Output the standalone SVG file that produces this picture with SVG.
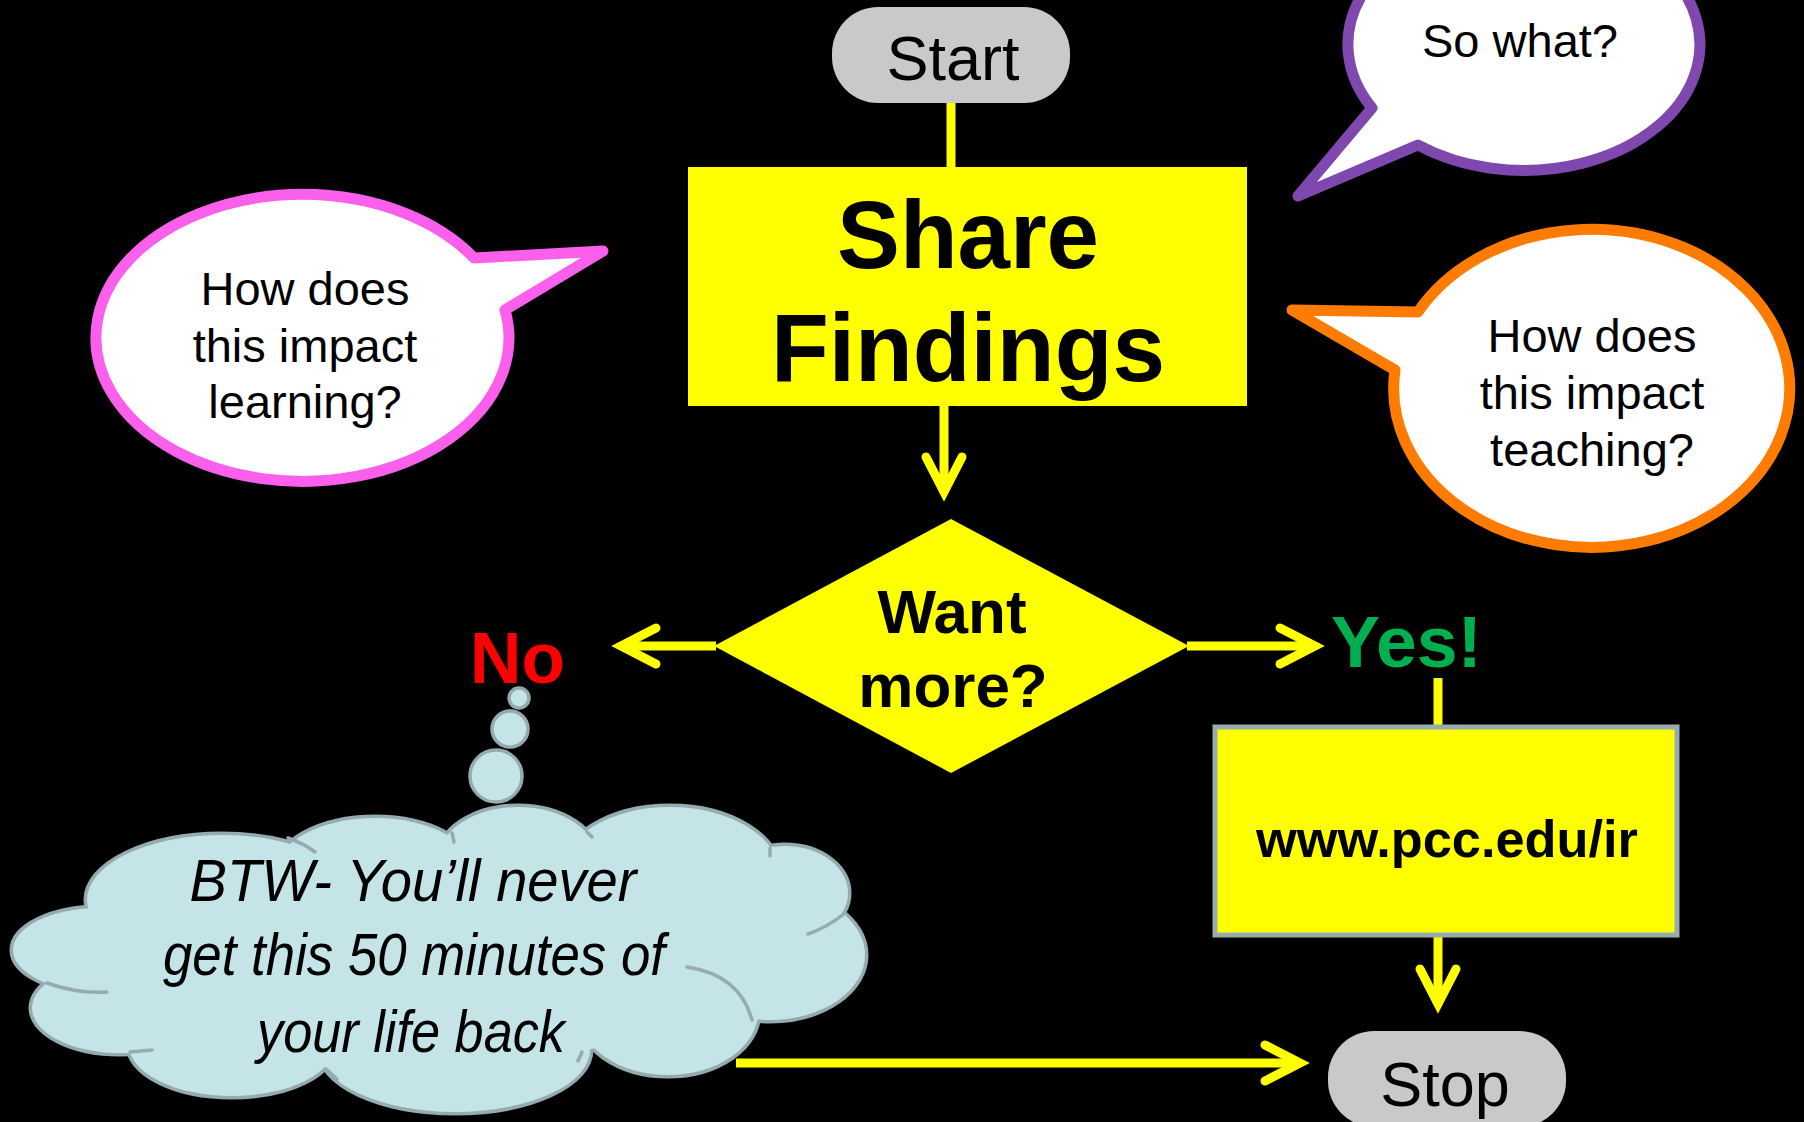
<svg xmlns="http://www.w3.org/2000/svg" width="1804" height="1122" viewBox="0 0 1804 1122">
<defs>
<style>
.t{font-family:"Liberation Sans",Arial,Helvetica,sans-serif;fill:#000}
.b{font-weight:bold}
.m{text-anchor:middle}
.conn{stroke:#FFFF00;stroke-width:9;fill:none}
.pill{fill:#C9C9C9}
.yel{fill:#FFFF00}
.bal{fill:#FFFFFF;stroke-width:11;stroke-linejoin:round}
.cs{fill:none;stroke:#95ABB0;stroke-width:7}
.cf{fill:#C5E4E8}
.stub{fill:none;stroke:#95ABB0;stroke-width:3.5;stroke-linecap:round}
.bub{fill:#C5E4E8;stroke:#95ABB0;stroke-width:3.5}
.ct{font-style:italic;font-size:60px}
.q{font-size:47px}
</style>
<marker id="ah" viewBox="-50 -30 65 60" markerWidth="65" markerHeight="60" refX="0" refY="0" orient="auto" markerUnits="userSpaceOnUse">
<path d="M-35,-18 L0,0 L-35,18" fill="none" stroke="#FFFF00" stroke-width="9" stroke-linecap="round" stroke-linejoin="miter"/>
</marker>
</defs>
<rect x="0" y="0" width="1804" height="1122" fill="#000"/>

<g id="connectors">
<line class="conn" x1="951" y1="102" x2="951" y2="168"/>
<line class="conn" x1="944" y1="406" x2="944" y2="492" marker-end="url(#ah)"/>
<line class="conn" x1="716" y1="646" x2="621" y2="646" marker-end="url(#ah)"/>
<line class="conn" x1="1187" y1="646" x2="1315" y2="646" marker-end="url(#ah)"/>
<line class="conn" x1="1438" y1="678" x2="1438" y2="726"/>
<line class="conn" x1="1438" y1="936" x2="1438" y2="1004" marker-end="url(#ah)"/>
<line class="conn" x1="736" y1="1063" x2="1300" y2="1063" marker-end="url(#ah)"/>
</g>

<g id="start">
<rect class="pill" x="832" y="7" width="238" height="96" rx="46" ry="46"/>
<text class="t m" x="953" y="80" font-size="63">Start</text>
</g>

<g id="share">
<rect class="yel" x="688" y="167" width="559" height="239"/>
<text class="t b m" x="968" y="268" font-size="96" textLength="262" lengthAdjust="spacingAndGlyphs">Share</text>
<text class="t b m" x="968" y="381" font-size="96" textLength="394" lengthAdjust="spacingAndGlyphs">Findings</text>
</g>

<g id="decision">
<polygon class="yel" points="951,519 1189,646 951,773 714,646"/>
<text class="t b m" x="952" y="633" font-size="62">Want</text>
<text class="t b m" x="953" y="707" font-size="62">more?</text>
</g>

<g id="no">
<text class="t b" x="470" y="683" font-size="72" style="fill:#FF0000" textLength="95" lengthAdjust="spacingAndGlyphs">No</text>
</g>

<g id="yes">
<text class="t b" x="1331" y="667" font-size="72" style="fill:#00B050" textLength="151" lengthAdjust="spacingAndGlyphs">Yes!</text>
</g>

<g id="url">
<rect class="yel" x="1215" y="727" width="462" height="208" stroke="#98ACB0" stroke-width="5"/>
<text class="t b m" x="1447" y="857" font-size="52" textLength="382" lengthAdjust="spacingAndGlyphs">www.pcc.edu/ir</text>
</g>

<g id="stop">
<rect class="pill" x="1328" y="1031" width="238" height="96" rx="46" ry="46"/>
<text class="t m" x="1445" y="1106" font-size="63">Stop</text>
</g>

<g id="balloon-learning">
<path class="bal" stroke="#FA60EC" d="M474,258 L603,251 L505,310 A206.5 143.5 0 1 1 474,258 Z"/>
<text class="t m q" x="305" y="305">How does</text>
<text class="t m q" x="305" y="362">this impact</text>
<text class="t m q" x="305" y="418">learning?</text>
</g>

<g id="balloon-sowhat">
<path class="bal" stroke="#7F48AF" d="M1372,108 L1298,196 L1418,145 A176 126 0 1 0 1372,108 Z"/>
<text class="t m q" x="1520" y="57">So what?</text>
</g>

<g id="balloon-teaching">
<path class="bal" stroke="#FF7C00" d="M1418,312 L1292,310 L1395,370 A198 159 0 1 0 1418,312 Z"/>
<text class="t m q" x="1592" y="352">How does</text>
<text class="t m q" x="1592" y="409">this impact</text>
<text class="t m q" x="1592" y="466">teaching?</text>
</g>

<g id="thought-cloud">
<circle class="bub" cx="519" cy="698" r="10"/>
<circle class="bub" cx="510" cy="729" r="18"/>
<circle class="bub" cx="496" cy="776" r="26"/>
<g>
<ellipse class="cs" cx="222" cy="900" rx="135" ry="65"/>
<ellipse class="cs" cx="375" cy="873" rx="100" ry="55"/>
<ellipse class="cs" cx="518" cy="860" rx="80" ry="53"/>
<ellipse class="cs" cx="670" cy="875" rx="110" ry="68"/>
<ellipse class="cs" cx="785" cy="893" rx="63" ry="47"/>
<ellipse class="cs" cx="770" cy="955" rx="95" ry="65"/>
<ellipse class="cs" cx="668" cy="1012" rx="90" ry="63"/>
<ellipse class="cs" cx="455" cy="1050" rx="135" ry="62"/>
<ellipse class="cs" cx="232" cy="1045" rx="103" ry="51"/>
<ellipse class="cs" cx="120" cy="1008" rx="88" ry="45"/>
<ellipse class="cs" cx="100" cy="950" rx="87" ry="42"/>
</g>
<g>
<ellipse class="cf" cx="222" cy="900" rx="135" ry="65"/>
<ellipse class="cf" cx="375" cy="873" rx="100" ry="55"/>
<ellipse class="cf" cx="518" cy="860" rx="80" ry="53"/>
<ellipse class="cf" cx="670" cy="875" rx="110" ry="68"/>
<ellipse class="cf" cx="785" cy="893" rx="63" ry="47"/>
<ellipse class="cf" cx="770" cy="955" rx="95" ry="65"/>
<ellipse class="cf" cx="668" cy="1012" rx="90" ry="63"/>
<ellipse class="cf" cx="455" cy="1050" rx="135" ry="62"/>
<ellipse class="cf" cx="232" cy="1045" rx="103" ry="51"/>
<ellipse class="cf" cx="120" cy="1008" rx="88" ry="45"/>
<ellipse class="cf" cx="100" cy="950" rx="87" ry="42"/>
<ellipse class="cf" cx="440" cy="960" rx="330" ry="100"/>
</g>
<path class="stub" d="M47,983 Q78,994 107,992"/>
<path class="stub" d="M130,1052 L152,1050"/>
<path class="stub" d="M288,838 Q303,843 315,852"/>
<path class="stub" d="M452,833 L454,842"/>
<path class="stub" d="M587,832 L592,837"/>
<path class="stub" d="M770,848 L770,856"/>
<path class="stub" d="M845,913 Q828,927 808,934"/>
<path class="stub" d="M687,967 Q740,975 752,1020"/>
<path class="stub" d="M582,1052 L578,1061"/>
<path class="stub" d="M326,1069 L337,1079"/>
<text class="t m ct" x="413" y="901" textLength="447" lengthAdjust="spacingAndGlyphs">BTW- You’ll never</text>
<text class="t m ct" x="414" y="975" textLength="502" lengthAdjust="spacingAndGlyphs">get this 50 minutes of</text>
<text class="t m ct" x="411" y="1052" textLength="308" lengthAdjust="spacingAndGlyphs">your life back</text>
</g>
</svg>
